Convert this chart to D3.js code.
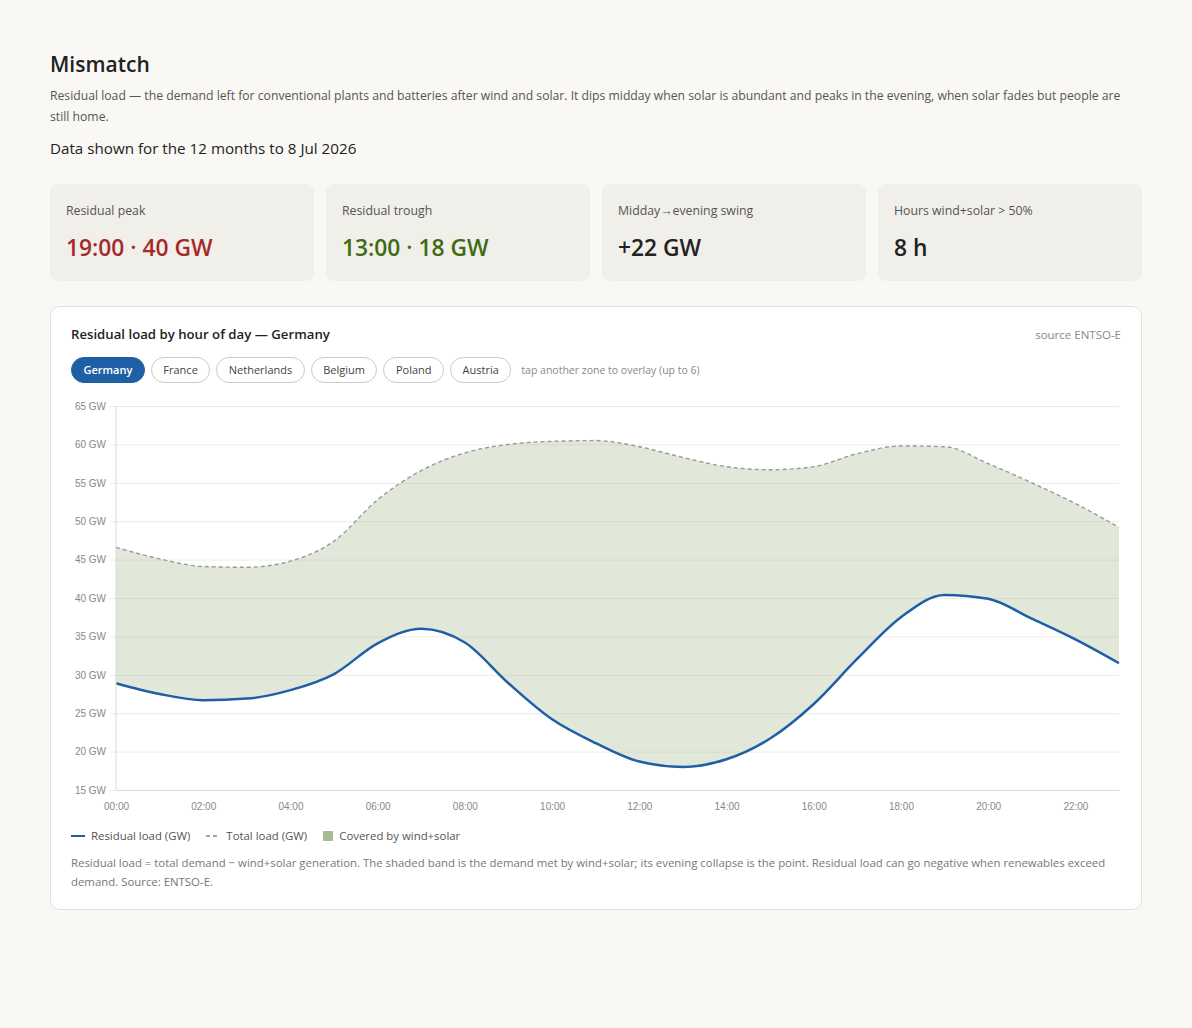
<!DOCTYPE html>
<html lang="en">
<head>
<meta charset="utf-8">
<script src="https://cdn.jsdelivr.net/npm/d3@7/dist/d3.min.js"></script>
<style>
html, body {
    margin: 0;
    padding: 0;
    background: #f9f8f5;
    font-family: "Open Sans", "Noto Sans", sans-serif;
    color: #222;
}
.wrap {
    width: 1092px;
    padding: 50px 50px 40px 50px;
}
h1 {
    margin: 0;
    font-size: 21px;
    font-weight: 600;
    line-height: 28px;
    color: #222;
}
.sub {
    margin: 7px 0 0 0;
    font-size: 12.2px;
    line-height: 21px;
    color: #555;
}
.period {
    margin: 10px 0 0 0;
    font-size: 15.2px;
    line-height: 22px;
    color: #222;
}
.kpis {
    display: flex;
    gap: 12px;
    margin-top: 25px;
}
.kpi {
    flex: 1;
    height: 97px;
    background: #f1efe9;
    border-radius: 8px;
    padding: 0 16px;
    box-sizing: border-box;
}
.kpi .lab {
    font-size: 12.3px;
    color: #555;
    margin-top: 18px;
    line-height: 18px;
}
.kpi .val {
    font-size: 22.8px;
    font-weight: 600;
    margin-top: 13px;
    line-height: 30px;
}
.card {
    margin-top: 25px;
    background: #fff;
    border: 1px solid #e2dfd8;
    border-radius: 10px;
    height: 602px;
    position: relative;
}
.card .ttl {
    position: absolute;
    left: 20px;
    top: 18px;
    font-size: 13.2px;
    font-weight: 600;
    color: #222;
}
.card .src {
    position: absolute;
    right: 20px;
    top: 20px;
    font-size: 11.5px;
    color: #888;
}
.pills {
    position: absolute;
    left: 20px;
    top: 50px;
    display: flex;
    gap: 6px;
    align-items: center;
}
.pill {
    height: 26px;
    line-height: 24px;
    box-sizing: border-box;
    border: 1px solid #cfccc5;
    border-radius: 13px;
    padding: 0 11.5px;
    font-size: 11px;
    color: #444;
    background: #fff;
}
.pill.on {
    background: #1f5fa6;
    border-color: #1f5fa6;
    color: #fff;
    font-weight: 600;
}
.hint {
    font-size: 10.5px;
    color: #888;
    margin-left: 4px;
}
#chart {
    position: absolute;
    left: 0;
    top: 88px;
}
.legend {
    position: absolute;
    left: 20px;
    top: 521px;
    font-size: 11.4px;
    color: #555;
    display: flex;
    align-items: center;
}
.legend span.item { display: flex; align-items: center; margin-right: 16px; }
.note {
    position: absolute;
    left: 20px;
    right: 20px;
    top: 546px;
    font-size: 11.4px;
    line-height: 19px;
    color: #777;
}
</style>
</head>
<body>
<div class="wrap">
    <h1>Mismatch</h1>
    <p class="sub">Residual load — the demand left for conventional plants and batteries after wind and solar. It dips midday when solar is abundant and peaks in the evening, when solar fades but people are still home.</p>
    <p class="period">Data shown for the 12 months to 8 Jul 2026</p>
    <div class="kpis" id="kpis"></div>
    <div class="card">
        <div class="ttl">Residual load by hour of day — Germany</div>
        <div class="src">source ENTSO-E</div>
        <div class="pills" id="pills"></div>
        <div id="chart"></div>
        <div class="legend" id="legend"></div>
        <div class="note">Residual load = total demand − wind+solar generation. The shaded band is the demand met by wind+solar; its evening collapse is the point. Residual load can go negative when renewables exceed demand. Source: ENTSO-E.</div>
    </div>
</div>

<script>
// data (GW, hourly average)
var hours = d3.range(0, 24);
var residual = [28.9, 27.5, 26.7, 26.9, 28.0, 30.1, 34.1, 36.0, 34.2, 28.9, 24.2, 21.1,
                18.7, 18.0, 19.0, 21.7, 26.2, 32.1, 37.5, 40.4, 39.9, 37.3, 34.6, 31.5];
var total = [46.6, 45.1, 44.1, 44.0, 44.8, 47.4, 52.8, 56.6, 58.9, 60.0, 60.4, 60.5,
             59.7, 58.3, 57.1, 56.7, 57.1, 58.8, 59.8, 59.7, 57.5, 55.0, 52.3, 49.2];
var yTicks = [15, 20, 25, 30, 35, 40, 45, 50, 55, 60, 65];
var xTicks = [0, 2, 4, 6, 8, 10, 12, 14, 16, 18, 20, 22];
var zones = ["Germany", "France", "Netherlands", "Belgium", "Poland", "Austria"];

var kpis = [
    {label: "Residual peak", value: "19:00 · 40 GW", color: "#a52a2a"},
    {label: "Residual trough", value: "13:00 · 18 GW", color: "#3f6b12"},
    {label: "Midday→evening swing", value: "+22 GW", color: "#222"},
    {label: "Hours wind+solar > 50%", value: "8 h", color: "#222"}
];

//KPIカード
var card = d3.select("#kpis").selectAll(".kpi")
    .data(kpis)
    .enter()
    .append("div")
    .attr("class", "kpi");
card.append("div").attr("class", "lab").text(function(d){ return d.label });
card.append("div").attr("class", "val")
    .style("color", function(d){ return d.color })
    .text(function(d){ return d.value });

//ゾーン切り替えボタン
var pills = d3.select("#pills");
pills.selectAll(".pill")
    .data(zones)
    .enter()
    .append("div")
    .attr("class", function(d, i){ return i === 0 ? "pill on" : "pill" })
    .text(function(d){ return d });
pills.append("div").attr("class", "hint").text("tap another zone to overlay (up to 6)");

var data = hours.map(function(h, i){
    return {hour: h, residual: residual[i], total: total[i]};
});

var width = 1090;
var height = 436;
var margin = {left: 65, top: 11, bottom: 41, right: 22};
var plotWidth = width - margin.left - margin.right;
var plotHeight = height - margin.top - margin.bottom;

var svg = d3.select("#chart").append("svg")
    .attr("width", width)
    .attr("height", height);

var xScale = d3.scaleLinear().domain([0, 23]).range([0, plotWidth]);
var yScale = d3.scaleLinear().domain([15, 65]).range([plotHeight, 0]);

var gridLayer = svg.append("g").attr("transform", "translate(" + [margin.left, margin.top] + ")");
var plotLayer = svg.append("g").attr("transform", "translate(" + [margin.left, margin.top] + ")");
var axisLayer = svg.append("g").attr("transform", "translate(" + [margin.left, margin.top] + ")");

//y軸 + グリッド
var yAxis = gridLayer.append("g")
    .call(d3.axisLeft(yScale).tickValues(yTicks).tickSize(-plotWidth - 6)
        .tickFormat(function(d){ return d + " GW" }))
    .attr("transform", "translate(" + [-6, 0] + ")");
yAxis.select(".domain").remove();
yAxis.selectAll("line").attr("stroke", "#eeece8");
yAxis.selectAll("text")
    .attr("x", -4)
    .attr("fill", "#888")
    .style("font-size", "10px")
    .style("font-family", "'Liberation Sans', Arial, sans-serif");

//x軸
var xAxis = axisLayer.append("g")
    .attr("transform", "translate(" + [0, plotHeight] + ")")
    .call(d3.axisBottom(xScale).tickValues(xTicks).tickSize(0).tickPadding(13)
        .tickFormat(function(d){ return d3.format("02d")(d) + ":00" }));
xAxis.select(".domain").attr("stroke", "#dcdad5");
xAxis.selectAll("text")
    .attr("fill", "#888")
    .style("font-size", "10px")
    .style("font-family", "'Liberation Sans', Arial, sans-serif");

axisLayer.append("line")
    .attr("x1", 0).attr("x2", 0)
    .attr("y1", 0).attr("y2", plotHeight)
    .attr("stroke", "#dcdad5");

//塗りつぶし（風力+太陽光でまかなわれた分）
var band = d3.area()
    .x(function(d){ return xScale(d.hour) })
    .y0(function(d){ return yScale(d.residual) })
    .y1(function(d){ return yScale(d.total) })
    .curve(d3.curveMonotoneX);

plotLayer.append("path")
    .datum(data)
    .attr("d", band)
    .attr("fill", "#9db386")
    .attr("fill-opacity", 0.3);

var totalLine = d3.line()
    .x(function(d){ return xScale(d.hour) })
    .y(function(d){ return yScale(d.total) })
    .curve(d3.curveMonotoneX);

plotLayer.append("path")
    .datum(data)
    .attr("d", totalLine)
    .attr("fill", "none")
    .attr("stroke", "#999")
    .attr("stroke-width", 1.4)
    .attr("stroke-dasharray", "4,3");

var resLine = d3.line()
    .x(function(d){ return xScale(d.hour) })
    .y(function(d){ return yScale(d.residual) })
    .curve(d3.curveMonotoneX);

plotLayer.append("path")
    .datum(data)
    .attr("d", resLine)
    .attr("fill", "none")
    .attr("stroke", "#1f5fa6")
    .attr("stroke-width", 2.5);

//凡例
var legend = d3.select("#legend");
var items = [
    {name: "Residual load (GW)", type: "line"},
    {name: "Total load (GW)", type: "dash"},
    {name: "Covered by wind+solar", type: "box"}
];
items.forEach(function(it){
    var s = legend.append("span").attr("class", "item");
    var sw = s.append("svg").attr("width", it.type === "box" ? 10 : 14).attr("height", 10)
        .style("margin-right", "6px");
    if (it.type === "line") {
        sw.append("line").attr("x1", 0).attr("x2", 14).attr("y1", 5).attr("y2", 5)
            .attr("stroke", "#1f5fa6").attr("stroke-width", 2);
    } else if (it.type === "dash") {
        sw.append("line").attr("x1", 0).attr("x2", 14).attr("y1", 5).attr("y2", 5)
            .attr("stroke", "#888").attr("stroke-width", 1.4).attr("stroke-dasharray", "4,3");
    } else {
        sw.append("rect").attr("x", 0).attr("y", 0).attr("width", 10).attr("height", 10)
            .attr("rx", 1).attr("fill", "#a5bd8e");
    }
    s.append("span").text(it.name);
});
</script>
</body>
</html>
